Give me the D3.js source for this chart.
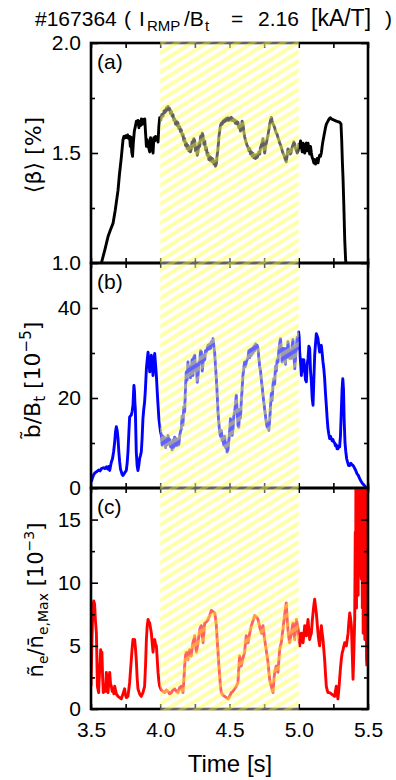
<!DOCTYPE html>
<html>
<head>
<meta charset="utf-8">
<script src="https://cdn.jsdelivr.net/npm/d3@7"></script>
<style>
  body { margin: 0; background: #fff; }
  svg { display: block; }
</style>
</head>
<body>
<div id="chart"></div>
<script>
// time axis
const timeMajor = [3.5, 4.0, 4.5, 5.0, 5.5];
const timeMinor = [3.75, 4.25, 4.75, 5.25];
const rmpWindow = [4.0, 5.0];

// (a) <beta> [%]
const beta = [
  [3.560,0.97],[3.575,1.00],[3.600,1.06],[3.623,1.12],[3.640,1.15],[3.659,1.18],[3.675,1.24],[3.695,1.33],
  [3.705,1.40],[3.719,1.48],[3.731,1.56],[3.737,1.575],[3.743,1.568],[3.750,1.578],[3.757,1.570],[3.764,1.582],
  [3.771,1.566],[3.779,1.575],[3.784,1.530],[3.789,1.572],[3.794,1.505],[3.800,1.485],[3.806,1.55],[3.813,1.60],
  [3.820,1.62],[3.828,1.645],[3.834,1.632],[3.840,1.648],[3.846,1.615],[3.852,1.642],[3.858,1.625],[3.864,1.655],
  [3.870,1.630],[3.876,1.652],[3.882,1.640],[3.888,1.655],[3.894,1.590],[3.900,1.530],[3.906,1.560],[3.912,1.540],
  [3.918,1.520],[3.924,1.505],[3.930,1.570],[3.936,1.555],[3.942,1.520],[3.948,1.500],[3.954,1.570],[3.960,1.555],
  [3.966,1.575],[3.972,1.56],[3.978,1.572],[3.984,1.55],[3.990,1.62],[3.996,1.66],
  [4.004,1.650],[4.012,1.675],[4.020,1.668],[4.028,1.692],[4.036,1.685],[4.044,1.705],[4.050,1.695],[4.056,1.712],
  [4.062,1.698],[4.068,1.702],[4.074,1.680],[4.080,1.690],[4.086,1.668],[4.092,1.675],[4.098,1.650],[4.104,1.655],
  [4.110,1.632],[4.116,1.645],[4.122,1.625],[4.128,1.638],[4.134,1.612],[4.140,1.620],[4.146,1.598],[4.152,1.605],
  [4.158,1.580],[4.164,1.585],[4.170,1.555],[4.176,1.565],[4.182,1.535],[4.188,1.545],[4.194,1.520],[4.200,1.535],
  [4.206,1.510],[4.212,1.525],[4.218,1.505],[4.224,1.520],[4.230,1.550],[4.236,1.530],[4.242,1.565],[4.249,1.555],
  [4.255,1.510],[4.261,1.525],[4.267,1.490],[4.273,1.505],[4.279,1.545],[4.285,1.530],[4.291,1.575],[4.297,1.560],
  [4.303,1.590],[4.309,1.580],[4.315,1.540],[4.321,1.555],[4.327,1.515],[4.333,1.525],[4.339,1.490],[4.345,1.500],
  [4.351,1.470],[4.357,1.485],[4.363,1.465],[4.369,1.478],[4.375,1.460],[4.381,1.472],[4.387,1.450],[4.393,1.462],
  [4.399,1.440],[4.405,1.450],[4.411,1.490],[4.417,1.520],[4.423,1.570],[4.429,1.600],[4.435,1.625],[4.441,1.635],
  [4.447,1.630],[4.453,1.645],[4.459,1.640],[4.465,1.652],[4.471,1.645],[4.477,1.658],[4.483,1.650],[4.489,1.660],
  [4.495,1.648],[4.501,1.658],[4.507,1.650],[4.513,1.662],[4.519,1.648],[4.525,1.655],[4.531,1.645],[4.537,1.650],
  [4.543,1.635],[4.549,1.645],[4.555,1.632],[4.561,1.640],[4.567,1.615],[4.573,1.625],[4.579,1.600],[4.585,1.610],
  [4.591,1.645],[4.597,1.635],[4.603,1.600],[4.609,1.575],[4.615,1.560],[4.621,1.545],[4.627,1.535],[4.634,1.525],
  [4.640,1.510],[4.646,1.520],[4.652,1.495],[4.658,1.505],[4.664,1.485],[4.670,1.498],[4.676,1.478],[4.682,1.488],
  [4.688,1.475],[4.694,1.492],[4.700,1.480],[4.706,1.490],[4.712,1.505],[4.718,1.495],[4.724,1.525],[4.730,1.535],
  [4.736,1.550],[4.742,1.565],[4.748,1.520],[4.754,1.500],[4.760,1.530],[4.766,1.545],[4.772,1.565],[4.778,1.580],
  [4.784,1.605],[4.790,1.630],[4.796,1.648],[4.802,1.662],[4.808,1.645],[4.814,1.632],[4.820,1.625],[4.826,1.615],
  [4.832,1.600],[4.838,1.590],[4.844,1.585],[4.850,1.570],[4.856,1.560],[4.862,1.545],[4.868,1.538],[4.874,1.525],
  [4.880,1.512],[4.886,1.500],[4.892,1.492],[4.898,1.480],[4.904,1.470],[4.910,1.460],[4.916,1.490],[4.922,1.518],
  [4.928,1.505],[4.934,1.512],[4.940,1.495],[4.946,1.505],[4.952,1.525],[4.958,1.535],[4.964,1.550],[4.971,1.540],
  [4.977,1.520],[4.983,1.512],[4.989,1.500],[4.995,1.510],
  [5.001,1.540],[5.007,1.525],[5.013,1.555],[5.019,1.530],[5.025,1.505],[5.031,1.545],[5.037,1.525],[5.043,1.500],
  [5.049,1.535],[5.055,1.545],[5.061,1.510],[5.067,1.545],[5.073,1.520],[5.079,1.495],[5.085,1.530],[5.091,1.500],
  [5.097,1.480],[5.103,1.470],[5.109,1.455],[5.115,1.470],[5.121,1.450],[5.127,1.462],[5.133,1.475],[5.139,1.455],
  [5.145,1.478],[5.151,1.490],[5.157,1.485],[5.163,1.500],[5.169,1.530],[5.175,1.555],[5.181,1.575],[5.187,1.595],
  [5.193,1.615],[5.199,1.630],[5.205,1.638],[5.211,1.645],[5.217,1.652],[5.223,1.658],[5.229,1.660],[5.235,1.655],
  [5.247,1.652],[5.259,1.648],[5.271,1.645],[5.283,1.642],[5.295,1.640],[5.305,1.632],[5.310,1.560],[5.315,1.460],
  [5.320,1.380],[5.326,1.250],[5.332,1.105],[5.338,1.020],[5.345,0.96]
];

// (b) b~/Bt [1e-5]
const bTilde = [
  [3.502,1.3],[3.510,2.2],[3.520,3.0],[3.530,3.4],[3.540,3.6],[3.555,4.0],[3.565,3.8],[3.575,4.3],[3.590,4.5],
  [3.600,4.3],[3.611,4.7],[3.620,4.2],[3.628,4.8],[3.635,3.9],[3.642,5.0],[3.647,5.8],[3.655,6.5],[3.663,8.0],
  [3.671,10.2],[3.677,12.5],[3.683,13.6],[3.689,12.8],[3.695,11.0],[3.701,8.0],[3.707,5.8],[3.713,4.2],[3.719,3.6],
  [3.725,3.0],[3.731,2.8],[3.740,3.2],[3.748,3.6],[3.755,3.9],[3.761,5.5],[3.767,8.0],[3.773,12.0],[3.779,15.8],
  [3.785,16.0],[3.791,16.2],[3.797,17.0],[3.803,18.4],[3.807,21.0],[3.810,22.8],[3.814,21.5],[3.817,19.0],[3.820,17.6],
  [3.824,12.0],[3.827,8.0],[3.833,5.0],[3.839,3.9],[3.845,5.0],[3.851,6.5],[3.857,7.2],[3.863,8.0],[3.869,11.0],
  [3.875,15.4],[3.881,17.5],[3.887,19.1],[3.893,22.0],[3.900,26.5],[3.906,28.5],[3.912,30.2],[3.918,28.0],[3.924,25.8],
  [3.930,28.0],[3.936,29.5],[3.942,27.0],[3.948,25.0],[3.954,28.0],[3.960,29.9],[3.966,27.5],[3.972,25.0],[3.978,21.5],
  [3.984,18.4],[3.990,15.5],[3.996,13.9],
  [4.002,12.5],[4.008,11.7],[4.014,9.5],[4.020,11.5],[4.026,10.0],[4.032,11.2],[4.038,9.0],[4.044,11.0],[4.050,9.6],
  [4.056,11.7],[4.062,9.8],[4.068,10.8],[4.074,9.2],[4.080,9.9],[4.086,8.5],[4.092,10.6],[4.098,9.0],[4.104,11.3],
  [4.110,9.5],[4.116,11.0],[4.122,9.4],[4.128,10.2],[4.134,9.6],[4.140,11.5],[4.146,12.5],[4.152,13.2],[4.158,16.0],
  [4.164,14.0],[4.170,18.0],[4.176,16.9],[4.182,22.0],[4.188,25.8],[4.194,24.0],[4.200,28.0],[4.206,25.5],[4.212,27.0],
  [4.218,24.5],[4.224,26.5],[4.230,28.5],[4.236,25.0],[4.242,29.0],[4.249,29.5],[4.255,26.0],[4.261,27.5],[4.267,23.5],
  [4.273,25.0],[4.279,28.0],[4.285,28.0],[4.291,30.5],[4.297,30.2],[4.303,26.0],[4.309,27.8],[4.315,29.5],[4.321,28.5],
  [4.327,30.5],[4.333,30.2],[4.339,31.0],[4.345,31.7],[4.351,30.8],[4.357,32.0],[4.363,31.0],[4.369,32.5],[4.375,32.0],
  [4.381,33.2],[4.387,31.5],[4.393,30.0],[4.399,27.0],[4.405,24.3],[4.411,21.0],[4.417,16.9],[4.423,14.5],[4.429,12.4],
  [4.435,11.5],[4.441,12.8],[4.447,10.5],[4.453,11.0],[4.459,9.5],[4.465,11.5],[4.471,9.0],[4.477,10.0],[4.483,8.0],
  [4.489,8.6],[4.495,10.5],[4.501,12.5],[4.507,15.4],[4.513,14.0],[4.519,11.7],[4.525,13.0],[4.531,16.0],[4.537,16.9],
  [4.543,18.5],[4.549,20.6],[4.555,17.0],[4.561,14.0],[4.567,13.5],[4.573,17.5],[4.579,15.5],[4.585,19.1],[4.591,22.0],
  [4.597,25.0],[4.603,26.5],[4.609,28.0],[4.615,27.0],[4.621,28.0],[4.627,28.5],[4.634,29.0],[4.640,30.5],[4.646,29.0],
  [4.652,30.8],[4.658,29.5],[4.664,31.0],[4.670,30.0],[4.676,31.5],[4.682,30.5],[4.688,32.0],[4.694,31.0],[4.700,31.7],
  [4.706,31.0],[4.712,28.8],[4.718,27.0],[4.724,26.0],[4.730,24.0],[4.736,22.5],[4.742,20.6],[4.748,19.0],[4.754,17.5],
  [4.760,16.0],[4.766,14.5],[4.772,13.5],[4.778,14.5],[4.784,12.8],[4.790,15.0],[4.796,18.0],[4.802,21.0],[4.808,19.5],
  [4.814,23.0],[4.820,24.3],[4.826,23.0],[4.832,27.0],[4.838,26.0],[4.844,28.5],[4.850,28.0],[4.856,30.5],[4.862,32.0],
  [4.868,33.2],[4.874,31.0],[4.880,28.0],[4.886,29.5],[4.892,31.0],[4.898,30.0],[4.904,27.5],[4.910,31.0],[4.916,29.0],
  [4.922,32.5],[4.928,30.5],[4.934,28.8],[4.940,30.5],[4.946,28.8],[4.952,31.5],[4.958,33.0],[4.964,30.0],[4.971,26.5],
  [4.977,28.8],[4.983,31.5],[4.989,33.5],[4.995,31.0],
  [4.999,34.7],[5.003,33.5],[5.007,30.0],[5.013,28.0],[5.019,25.0],[5.025,28.5],[5.031,26.0],[5.037,28.5],[5.043,26.0],
  [5.049,24.0],[5.055,23.6],[5.061,27.5],[5.067,28.8],[5.073,31.5],[5.079,31.0],[5.085,26.0],[5.091,23.6],[5.097,20.0],
  [5.103,18.4],[5.109,24.0],[5.115,29.5],[5.121,32.0],[5.127,34.3],[5.133,33.8],[5.139,33.2],[5.145,31.5],[5.151,30.2],
  [5.157,31.0],[5.163,31.7],[5.169,30.0],[5.175,28.0],[5.181,26.5],[5.187,24.3],[5.193,21.0],[5.199,18.4],[5.205,15.5],
  [5.211,13.2],[5.217,12.0],[5.223,11.0],[5.229,11.5],[5.235,11.0],[5.241,10.5],[5.247,10.8],[5.253,10.2],[5.259,10.0],
  [5.265,9.4],[5.271,9.6],[5.277,8.7],[5.283,8.7],[5.289,9.3],[5.295,9.1],[5.301,11.5],[5.307,16.9],[5.313,22.0],
  [5.318,24.3],[5.323,22.0],[5.328,15.0],[5.334,10.0],[5.340,8.0],[5.346,6.5],[5.352,5.8],[5.360,5.0],[5.368,5.0],
  [5.376,5.5],[5.384,5.2],[5.392,5.0],[5.400,4.6],[5.410,4.0],[5.420,3.2],[5.430,2.8],[5.440,2.1],[5.450,1.5],
  [5.460,1.0],[5.470,0.7],[5.480,0.3],[5.490,0.0]
];

// (c) n~e / n-bar e,Max [1e-3]
const nTilde = [
  [3.500,1.8],[3.506,5.0],[3.514,8.2],[3.520,8.55],[3.526,8.3],[3.532,7.0],[3.539,6.0],[3.546,1.8],[3.555,1.3],
  [3.562,3.0],[3.570,4.7],[3.575,4.2],[3.579,4.5],[3.584,2.5],[3.589,1.3],[3.599,1.8],[3.605,1.4],[3.611,2.9],
  [3.617,2.0],[3.623,1.3],[3.629,2.2],[3.635,2.9],[3.641,2.0],[3.647,1.8],[3.653,1.4],[3.659,1.6],[3.665,1.2],
  [3.671,1.8],[3.683,1.2],[3.695,1.0],[3.707,0.9],[3.719,0.8],[3.731,1.2],[3.743,1.6],[3.749,1.1],[3.755,0.9],
  [3.767,1.0],[3.779,2.1],[3.785,3.0],[3.791,3.9],[3.797,4.8],[3.803,5.5],[3.809,5.3],[3.815,5.5],[3.821,4.8],
  [3.827,3.9],[3.833,2.5],[3.839,1.6],[3.851,1.2],[3.863,1.0],[3.875,1.3],[3.887,1.8],[3.894,3.5],[3.900,5.5],
  [3.906,6.6],[3.912,7.1],[3.918,6.9],[3.924,6.8],[3.930,6.4],[3.936,6.0],[3.942,5.2],[3.948,4.5],[3.954,5.3],
  [3.960,5.5],[3.966,5.1],[3.972,5.0],[3.978,4.0],[3.984,2.9],[3.990,2.2],[3.996,1.8],
  [4.008,1.5],[4.020,1.4],[4.032,1.3],[4.044,1.5],[4.056,1.4],[4.068,1.2],[4.080,1.3],[4.092,1.5],[4.104,1.6],
  [4.116,1.4],[4.128,1.3],[4.140,1.7],[4.152,1.8],[4.158,1.5],[4.164,1.3],[4.170,2.2],[4.176,3.4],[4.182,4.2],
  [4.188,4.5],[4.194,4.0],[4.200,3.9],[4.206,4.5],[4.212,4.7],[4.218,4.3],[4.224,4.2],[4.230,4.8],[4.236,5.25],
  [4.242,5.5],[4.249,5.8],[4.255,5.0],[4.261,4.5],[4.267,4.9],[4.273,5.25],[4.279,5.8],[4.285,6.3],[4.291,6.5],
  [4.297,6.6],[4.303,5.8],[4.309,5.25],[4.315,6.0],[4.321,6.8],[4.333,6.9],[4.345,7.1],[4.357,7.4],[4.369,7.8],
  [4.381,7.7],[4.393,7.6],[4.399,7.2],[4.405,6.6],[4.411,5.5],[4.417,4.5],[4.423,3.5],[4.429,2.6],[4.435,1.8],
  [4.441,1.3],[4.453,1.1],[4.465,1.0],[4.477,0.9],[4.489,0.8],[4.501,1.0],[4.513,1.3],[4.525,1.4],[4.537,1.6],
  [4.549,1.8],[4.561,2.1],[4.567,3.2],[4.573,4.2],[4.579,3.8],[4.585,3.4],[4.597,4.0],[4.609,4.5],[4.615,5.2],
  [4.621,5.8],[4.627,5.5],[4.634,5.25],[4.646,6.0],[4.658,6.6],[4.670,7.0],[4.682,7.4],[4.694,7.3],[4.706,7.1],
  [4.718,6.5],[4.730,6.0],[4.736,6.4],[4.742,6.6],[4.748,6.0],[4.754,5.5],[4.766,4.6],[4.778,3.7],[4.784,3.0],
  [4.790,2.35],[4.796,2.0],[4.802,1.8],[4.808,1.5],[4.814,1.3],[4.820,2.2],[4.826,2.9],[4.832,3.2],[4.838,3.4],
  [4.844,3.1],[4.850,2.9],[4.856,3.8],[4.862,4.7],[4.868,5.0],[4.874,5.25],[4.880,5.8],[4.886,6.3],[4.892,6.9],
  [4.898,7.4],[4.904,8.0],[4.910,8.4],[4.916,7.2],[4.922,6.3],[4.928,5.7],[4.934,5.25],[4.940,5.6],[4.946,6.0],
  [4.952,6.4],[4.958,6.8],[4.964,6.1],[4.971,5.5],[4.977,6.4],[4.983,7.1],[4.989,6.7],[4.995,6.3],
  [5.001,5.6],[5.007,5.0],[5.013,5.5],[5.019,6.0],[5.025,5.6],[5.031,5.25],[5.037,5.9],[5.043,6.6],[5.049,6.2],
  [5.055,5.8],[5.061,6.5],[5.067,7.1],[5.073,6.2],[5.079,5.5],[5.085,5.8],[5.091,6.0],[5.097,6.9],[5.103,7.6],
  [5.109,8.2],[5.115,8.7],[5.121,8.1],[5.127,7.6],[5.133,6.8],[5.139,6.0],[5.145,5.4],[5.151,5.0],[5.157,5.8],
  [5.163,6.6],[5.169,6.0],[5.175,5.5],[5.181,4.7],[5.187,3.9],[5.193,2.8],[5.199,1.8],[5.205,1.5],[5.211,1.3],
  [5.223,1.3],[5.235,1.2],[5.247,1.1],[5.259,1.0],[5.265,1.4],[5.271,1.8],[5.277,1.2],[5.283,0.8],[5.289,1.5],
  [5.295,2.35],[5.301,3.2],[5.307,3.9],[5.313,4.4],[5.320,4.7],[5.326,5.0],[5.332,5.25],[5.338,5.1],[5.344,5.0],
  [5.350,5.5],[5.356,6.0],[5.362,6.9],[5.368,7.6],[5.374,7.2],[5.380,6.6],[5.386,4.5],[5.392,2.35],[5.398,4.5],
  [5.404,7.1],[5.408,14.0],[5.411,10.0],[5.414,25.0],[5.417,8.0],[5.420,25.0],[5.423,10.0],[5.426,25.0],[5.429,9.0],
  [5.432,25.0],[5.435,12.0],[5.438,25.0],[5.441,14.0],[5.444,25.0],[5.447,11.0],[5.452,10.3],[5.456,25.0],[5.459,8.0],
  [5.462,25.0],[5.465,6.0],[5.468,25.0],[5.471,7.0],[5.474,25.0],[5.477,5.5],[5.480,25.0],[5.483,6.0],[5.486,25.0],
  [5.489,4.0],[5.492,3.4]
];

const width = 396, height = 780;
const x = d3.scaleLinear().domain([3.5, 5.5]).range([91, 368]);

const panels = [
  { id: 'a', label: '(a)', data: beta, color: '#000000', domain: [1, 2], top: 43, bottom: 263,
    major: [1.0, 1.5, 2.0], minor: [1.25, 1.75], fmt: d3.format('.1f') },
  { id: 'b', label: '(b)', data: bTilde, color: '#0000ff', domain: [0, 50], top: 263, bottom: 488,
    major: [0, 20, 40], minor: [10, 30], fmt: d3.format('d') },
  { id: 'c', label: '(c)', data: nTilde, color: '#ff0000', domain: [0, 17.5], top: 488, bottom: 709,
    major: [0, 5, 10, 15], minor: [2.5, 7.5, 12.5], fmt: d3.format('d') }
];

const font = '"Liberation Sans", Arial, sans-serif';
const labelFont = '"DejaVu Sans", sans-serif';

const svg = d3.select('#chart').append('svg')
  .attr('width', width)
  .attr('height', height)
  .style('font-family', font);

const defs = svg.append('defs');

// hatch for the RMP window
const hatch = defs.append('pattern')
  .attr('id', 'hatch')
  .attr('patternUnits', 'userSpaceOnUse')
  .attr('width', 8)
  .attr('height', 8)
  .attr('patternTransform', 'rotate(-32)');
hatch.append('rect')
  .attr('width', 8)
  .attr('height', 4)
  .attr('fill', '#ffff20')
  .attr('fill-opacity', 0.38);

panels.forEach(p => {
  const y = d3.scaleLinear().domain(p.domain).range([p.bottom, p.top]);

  defs.append('clipPath').attr('id', 'clip-' + p.id)
    .append('rect')
    .attr('x', x.range()[0])
    .attr('y', p.top)
    .attr('width', x.range()[1] - x.range()[0])
    .attr('height', p.bottom - p.top);

  const g = svg.append('g').attr('class', 'panel-' + p.id);

  // trace
  const line = d3.line()
    .x(d => x(d[0]))
    .y(d => y(d[1]));

  g.append('path')
    .datum(p.data)
    .attr('clip-path', `url(#clip-${p.id})`)
    .attr('fill', 'none')
    .attr('stroke', p.color)
    .attr('stroke-width', 2.9)
    .attr('stroke-linejoin', 'round')
    .attr('d', line);

  // y ticks, left with labels, right without
  const left = g.append('g')
    .attr('transform', `translate(${x.range()[0]},0)`)
    .call(d3.axisLeft(y).tickValues(p.major).tickFormat(p.fmt)
      .tickSizeInner(-7).tickSizeOuter(0).tickPadding(10));
  left.append('g')
    .call(d3.axisLeft(y).tickValues(p.minor).tickFormat('').tickSizeInner(-4).tickSizeOuter(0));

  const right = g.append('g')
    .attr('transform', `translate(${x.range()[1]},0)`)
    .call(d3.axisRight(y).tickValues(p.major).tickFormat('').tickSizeInner(-7).tickSizeOuter(0));
  right.append('g')
    .call(d3.axisRight(y).tickValues(p.minor).tickFormat('').tickSizeInner(-4).tickSizeOuter(0));

  // x ticks, top and bottom
  const xt = timeMajor.concat(timeMinor);
  const bottomAxis = d3.axisBottom(x).tickValues(xt).tickSizeInner(-5).tickSizeOuter(0).tickPadding(13)
    .tickFormat(p.id === 'c' ? (d => timeMajor.includes(d) ? d3.format('.1f')(d) : '') : '');
  g.append('g')
    .attr('transform', `translate(0,${p.bottom})`)
    .call(bottomAxis);
  g.append('g')
    .attr('transform', `translate(0,${p.top})`)
    .call(d3.axisTop(x).tickValues(xt).tickFormat('').tickSizeInner(-5).tickSizeOuter(0));

  g.selectAll('.domain').remove();
  g.selectAll('.tick line').attr('stroke', '#000').attr('stroke-width', 1.6);
  g.selectAll('.tick text').attr('fill', '#000').style('font-size', '21px').style('font-family', font);

  // frame
  g.append('rect')
    .attr('x', x.range()[0])
    .attr('y', p.top)
    .attr('width', x.range()[1] - x.range()[0])
    .attr('height', p.bottom - p.top)
    .attr('fill', 'none')
    .attr('stroke', '#000')
    .attr('stroke-width', 2.6);

  g.append('text')
    .attr('x', x.range()[0] + 6)
    .attr('y', p.top + 26)
    .style('font-size', '21px')
    .text(p.label);
});

// RMP window overlay on top of everything in the plot area
const ov = svg.append('g').attr('class', 'rmp-window');
ov.append('rect')
  .attr('x', x(rmpWindow[0]))
  .attr('y', panels[0].top - 1.5)
  .attr('width', x(rmpWindow[1]) - x(rmpWindow[0]))
  .attr('height', panels[2].bottom - panels[0].top + 3)
  .attr('fill', '#ffffff')
  .attr('fill-opacity', 0.38);
ov.append('rect')
  .attr('x', x(rmpWindow[0]))
  .attr('y', panels[0].top - 1.5)
  .attr('width', x(rmpWindow[1]) - x(rmpWindow[0]))
  .attr('height', panels[2].bottom - panels[0].top + 3)
  .attr('fill', 'url(#hatch)');

// title, pieces placed along the line as in the original
const title = svg.append('text')
  .attr('y', 26)
  .style('font-size', '21px');
const titleParts = [
  ['#167364', 35, 0], ['(', 124, 0], ['I', 139, 0], ['RMP', 147, 1], ['/B', 184, 0], ['t', 205, 1],
  ['=', 231, 0], ['2.16', 258, 0], ['[kA/T]', 311, 0], [')', 385, 0]
];
titleParts.forEach(([txt, px, sub]) => {
  title.append('tspan')
    .attr('x', px)
    .attr('y', sub ? 31 : 26)
    .style('font-size', sub ? '15px' : (txt === '[kA/T]' ? '23px' : '21px'))
    .text(txt);
});

// y labels
function yLabel(cx, cy, size, parts) {
  const small = Math.round(size * 0.68);
  const t = svg.append('text')
    .attr('transform', `translate(${cx},${cy}) rotate(-90)`)
    .attr('text-anchor', 'middle')
    .style('font-family', labelFont)
    .style('font-size', size + 'px');
  let shift = 0;
  parts.forEach(([txt, kind]) => {
    const target = kind === 'sub' ? 5 : kind === 'sup' ? -9 : 0;
    t.append('tspan')
      .attr('dy', target - shift)
      .style('font-size', (kind ? small : size) + 'px')
      .text(txt);
    shift = target;
  });
}

yLabel(41, 155, 22, [['\u27E8\u03B2\u27E9 [%]']]);
yLabel(40, 380, 22, [['b\u0303/B'], ['t', 'sub'], [' [10'], ['\u22125', 'sup'], [']']]);
yLabel(43, 600, 21, [['n\u0303'], ['e', 'sub'], ['/n\u0304'], ['e,Max', 'sub'], [' [10'], ['\u22123', 'sup'], [']']]);

// x label
svg.append('text')
  .attr('x', 230)
  .attr('y', 772)
  .attr('text-anchor', 'middle')
  .style('font-size', '24px')
  .text('Time [s]');
</script>
</body>
</html>
